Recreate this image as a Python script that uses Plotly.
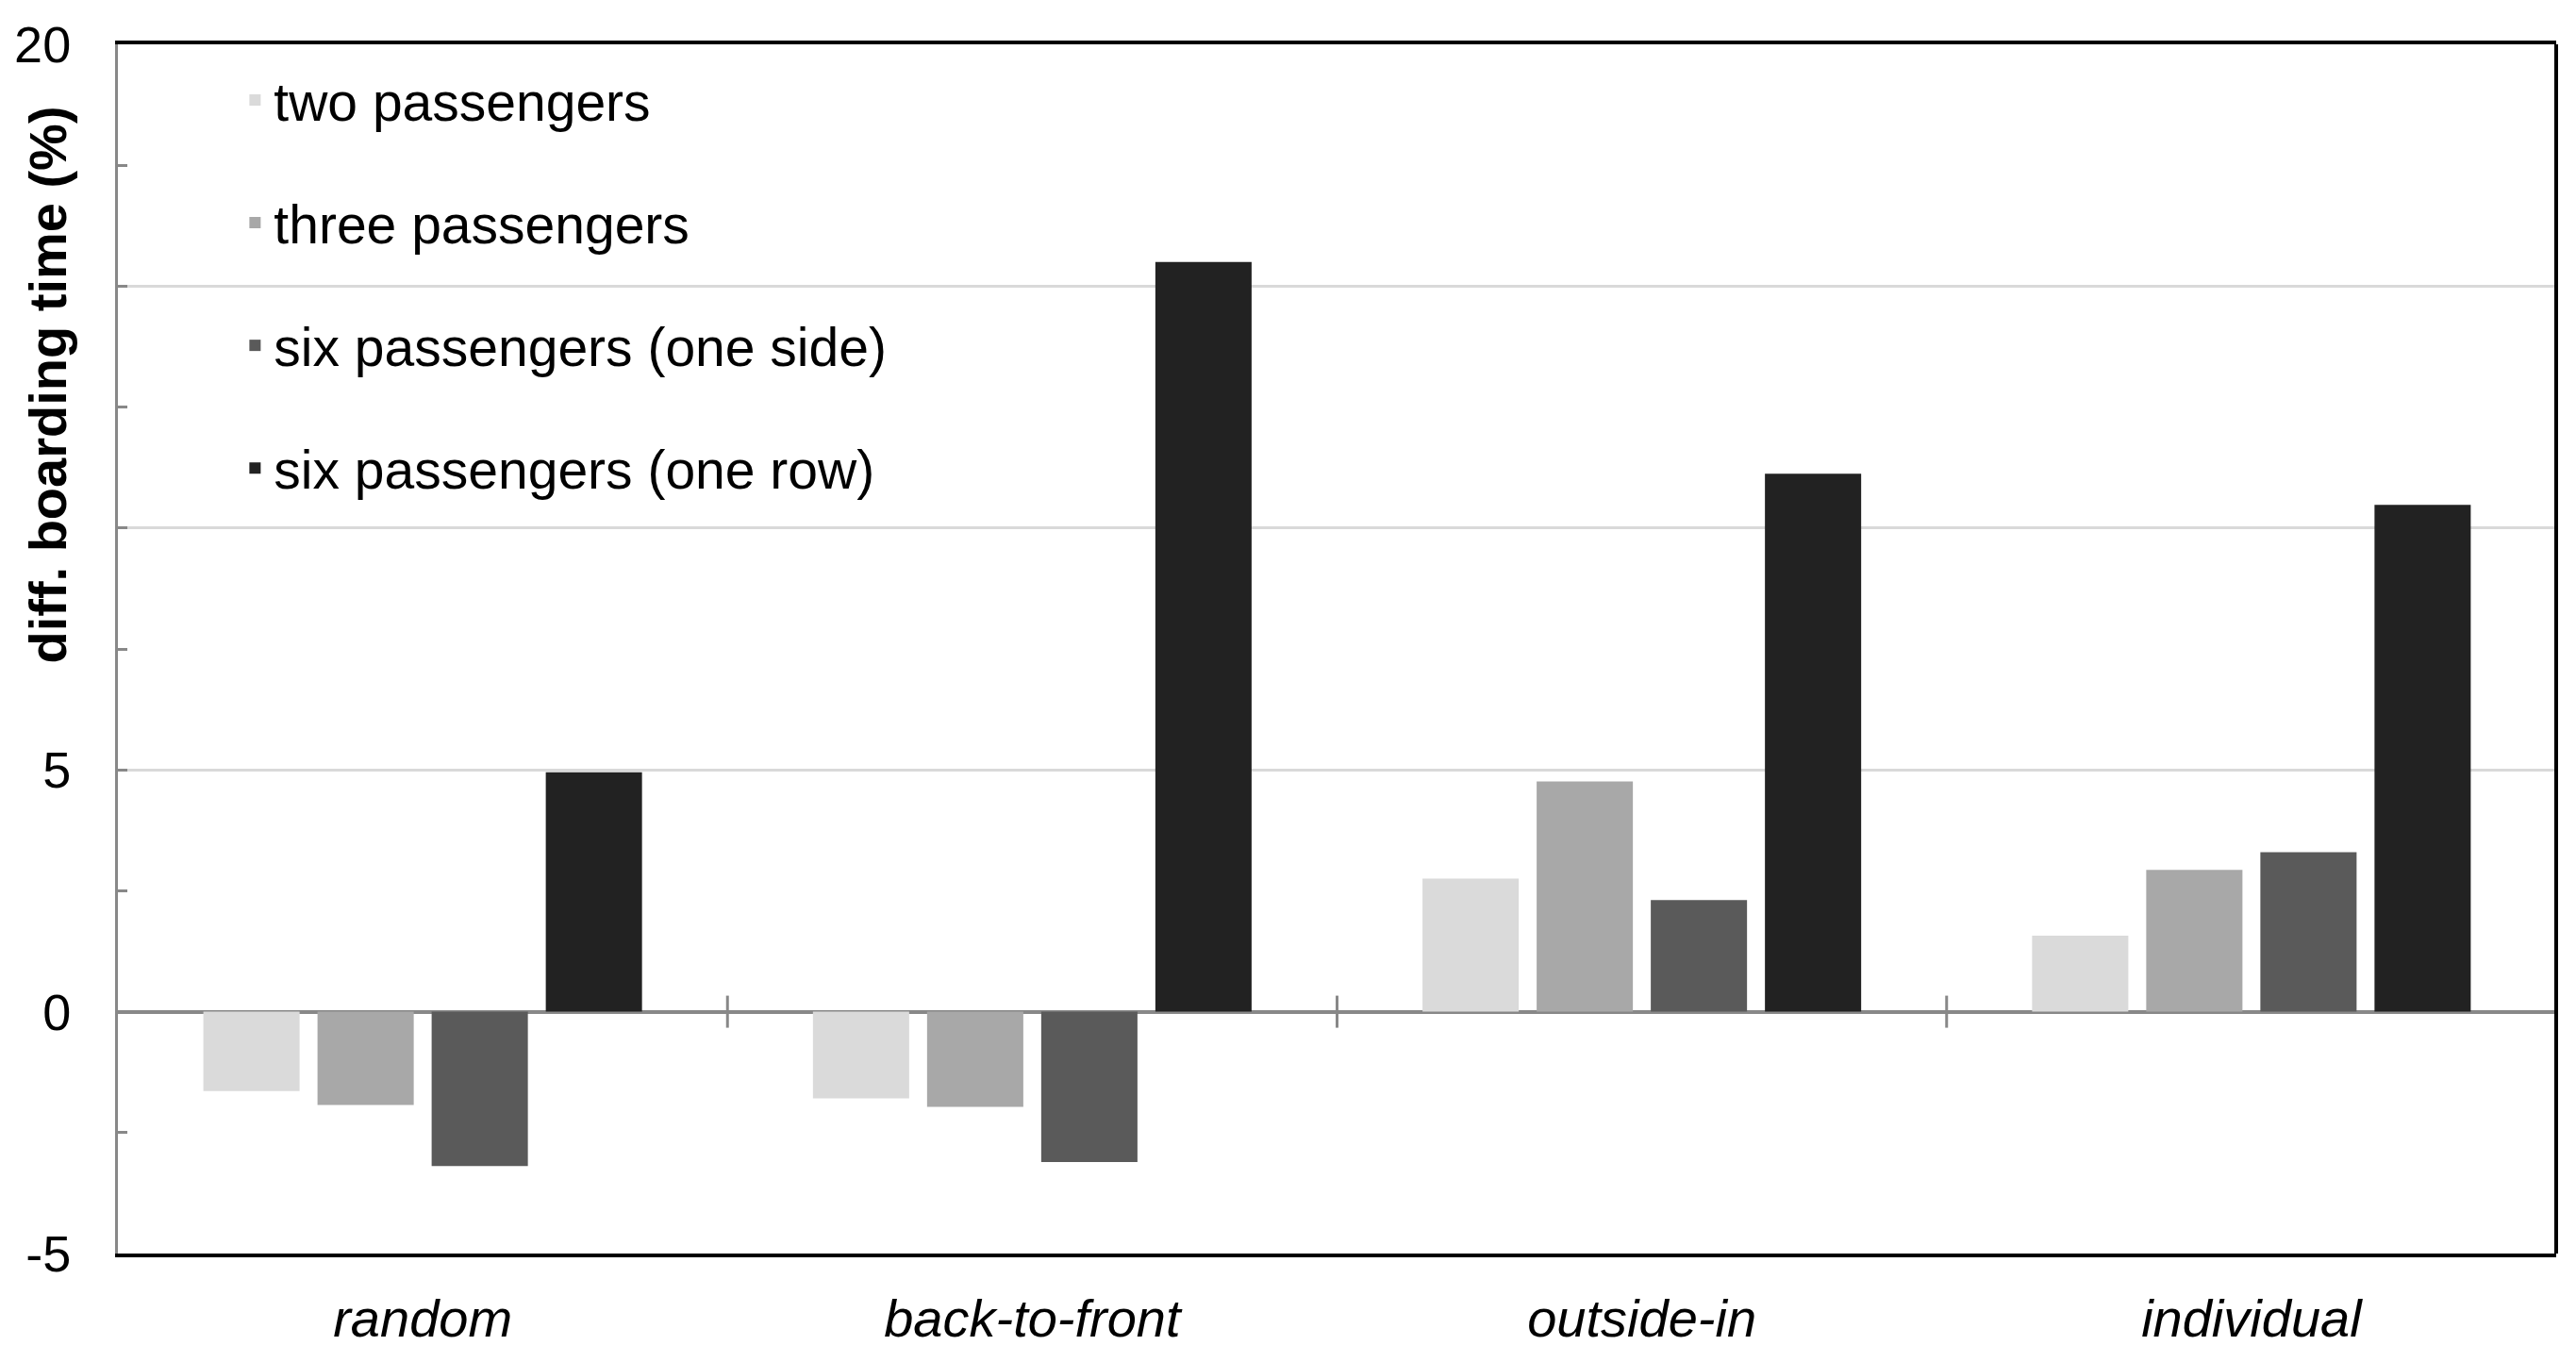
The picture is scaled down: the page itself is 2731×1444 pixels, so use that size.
import plotly.graph_objects as go

categories = ["random", "back-to-front", "outside-in", "individual"]
series_names = ["two passengers", "three passengers",
                "six passengers (one side)", "six passengers (one row)"]
two_passengers = [-1.64, -1.79, 2.75, 1.57]
three_passengers = [-1.93, -1.97, 4.76, 2.93]
six_one_side = [-3.19, -3.11, 2.31, 3.30]
six_one_row = [4.95, 15.50, 11.12, 10.48]
series_values = [two_passengers, three_passengers, six_one_side, six_one_row]
series_colors = ["#dadada", "#a8a8a8", "#5a5a5a", "#222222"]

y_tickvals = [-5, 0, 5, 10, 15, 20]
y_ticktext = ["-5", "0", "5", "", "", "20"]
y_minor_vals = [-2.5, 2.5, 7.5, 12.5, 17.5]
boundaries = [0.5, 1.5, 2.5]

FONT = "Liberation Sans, Arial, sans-serif"
GRAY = "#888888"

fig = go.Figure()
for i, (name, vals, col) in enumerate(zip(series_names, series_values, series_colors)):
    fig.add_trace(go.Bar(
        x=categories, y=vals, name=name,
        marker=dict(color=col, line=dict(width=0)),
        legendgroup=f"g{i}",
    ))

# small crossing ticks on the zero line at category boundaries
boundary_ticks = [dict(type="line", xref="x", yref="y", x0=b, x1=b,
                       ysizemode="pixel", yanchor=0, y0=-17, y1=17,
                       line=dict(color=GRAY, width=3), layer="above")
                  for b in boundaries]
frame_right = dict(type="line", xref="paper", yref="paper", x0=1, x1=1, y0=0, y1=1,
                   line=dict(color="black", width=4), layer="above")

fig.update_layout(
    width=2723, height=1436,
    paper_bgcolor="white", plot_bgcolor="white",
    margin=dict(l=117, r=21, t=39, b=115, autoexpand=False),
    barmode="group", bargap=0.251, bargroupgap=0.157,
    font=dict(family=FONT, size=56, color="black"),
    showlegend=True,
    legend=dict(
        x=0.0485, xanchor="left", y=0.988, yanchor="top",
        bgcolor="rgba(0,0,0,0)", borderwidth=0,
        font=dict(family=FONT, size=57, color="black"),
        traceorder="grouped", tracegroupgap=53,
        itemwidth=30,
    ),
    xaxis=dict(
        type="category", range=[-0.5, 3.5], automargin=False,
        showline=True, linecolor="black", linewidth=4, mirror=True,
        ticks="", showgrid=False, zeroline=False,
        tickfont=dict(family=FONT, size=56, color="black", style="italic"),
        ticklabelstandoff=17,
    ),
    yaxis=dict(
        range=[-5, 20], tickmode="array", tickvals=y_tickvals, ticktext=y_ticktext,
        automargin=False,
        ticks="inside", ticklen=10, tickwidth=3, tickcolor=GRAY,
        showline=True, linecolor=GRAY, linewidth=3,
        showgrid=True, gridcolor="#d9d9d9", gridwidth=3,
        zeroline=True, zerolinecolor=GRAY, zerolinewidth=4,
        tickfont=dict(family=FONT, size=54, color="black"),
        ticklabelstandoff=36,
        minor=dict(tickmode="array", tickvals=y_minor_vals, ticks="inside",
                   ticklen=10, tickwidth=3, tickcolor=GRAY, showgrid=False),
    ),
    shapes=boundary_ticks + [frame_right],
    annotations=[dict(
        text="<b>diff. boarding time (%)</b>", textangle=-90,
        xref="paper", yref="paper", x=-0.0292, y=0.7184,
        xanchor="center", yanchor="middle", showarrow=False,
        font=dict(family=FONT, size=56, color="black"),
    )],
)

fig.write_html("out.html")
